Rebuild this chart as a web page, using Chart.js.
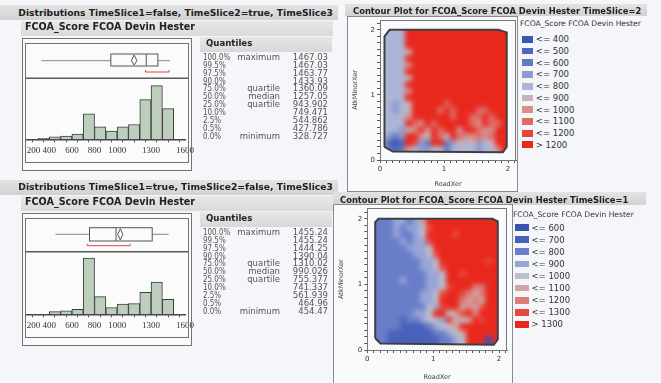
<!DOCTYPE html>
<html><head><meta charset="utf-8">
<script src="https://cdn.jsdelivr.net/npm/chart.js@4.4.1/dist/chart.umd.min.js"></script>
<style>
html,body{margin:0;padding:0}
body{width:661px;height:383px;position:relative;overflow:hidden;background:#f4f6f9;font-family:"DejaVu Sans",sans-serif;color:#333}
.a{position:absolute;box-sizing:border-box}
.t{position:absolute;white-space:nowrap;line-height:1}
canvas{position:absolute}
</style></head><body>
<script>
// ---------------- data ----------------
const histBinStart = [300,400,500,600,700,800,900,1000,1100,1200,1300,1400];
const histBinWidth = 100;
const histTS2 = [0.4,1,1.3,2,10,4.9,3.2,4.9,5.8,15.5,21,12];
const histTS1 = [0,1,1.3,1.9,21.6,6.8,2.6,3.9,4.1,8.5,12.4,5.8];
const histRange = [200,1600];
const histTickLabels = [200,400,600,800,1000,1300,1600];
const boxTS2 = [328.727,943.902,1257.05,1360.09,1467.03];
const boxTS1 = [454.47,755.377,990.026,1310.02,1455.24];
const meanTS2 = [1125,1150,1175];
const meanTS1 = [1005,1028,1050];
const shortestTS2 = [1250,1460];
const shortestTS1 = [735,1115];
const quantPct = ["100.0%","99.5%","97.5%","90.0%","75.0%","50.0%","25.0%","10.0%","2.5%","0.5%","0.0%"];
const quantName = ["maximum","","","","quartile","median","quartile","","","","minimum"];
const quantTS2 = ["1467.03","1467.03","1463.77","1433.93","1360.09","1257.05","943.902","749.471","544.862","427.786","328.727"];
const quantTS1 = ["1455.24","1455.24","1444.25","1390.04","1310.02","990.026","755.377","741.337","561.939","464.96","454.47"];
const levelsTS2 = ["<= 400","<= 500","<= 600","<= 700","<= 800","<= 900","<= 1000","<= 1100","<= 1200","> 1200"];
const colorsTS2 = ["#3b57b2","#4c67bb","#6378c3","#8c9bd0","#adb5d6","#c8b3b5","#d78f8d","#e06b66","#e8433a","#e9281d"];
const levelsTS1 = ["<= 600","<= 700","<= 800","<= 900","<= 1000","<= 1100","<= 1200","<= 1300","> 1300"];
const colorsTS1 = ["#3853b3","#4862bb","#6a7dc8","#97a5d8","#bcbfcc","#cfa5a6","#dd7b76","#e64a3f","#e9281d"];
const contourStep = 0.1;
const contourTop = 2.0;
// level index per 0.1 x 0.1 cell, rows from y=2.0 downwards, columns from x=0
const gridTS2 = [
"44449999999999999999","44449999999999999999","44449999999999999999","44445999999999999999",
"44449999999999999999","44446999999999999999","44449999999999999999","44445999999999999999",
"44449999999999999999","44446999999999999999","44449999999999999999","44345999997999999999",
"44345999979799977999","44446999999799779799","44449769799999769779","44435696979969976699",
"43239965975976676799","31019832992354534599","42126433542444434469","42126433542444434469"];
const gridTS1 = [
"22223323588888888888","22223233478888888888","22223223488887888888","22222323378888888888",
"22222233348888888888","22222223347888888888","22222222334888888878","22222222334788888888",
"22222222233488788888","22222322233488888888","22222222233478886688","22222222334788765688",
"22222222334888656588","22222222243788565788","22222223348845786888","22222122344385458788",
"22222111123445888888","22211111112234588888","22211111111223488808","22211111111223488808"];
const hullTS2 = [[0.07,0.2],[0.07,1.9],[0.15,2.0],[1.85,2.0],[1.98,1.96],[1.98,0.2],[1.92,0.12],[0.2,0.13]];
const hullTS1 = [[0.12,0.18],[0.12,1.95],[0.17,2.0],[1.9,2.0],[1.98,1.96],[1.98,0.16],[1.92,0.08],[0.2,0.1]];

// ---------------- helpers ----------------
const root = document.body;
function box(x,y,w,h,st){const d=document.createElement('div');d.className='a';Object.assign(d.style,{left:x+'px',top:y+'px',width:w+'px',height:h+'px'},st||{});root.appendChild(d);return d;}
function txt(s,x,base,size,o){o=o||{};const d=document.createElement('div');d.className='t';d.textContent=s;
  Object.assign(d.style,{left:x+'px',top:(base-0.846*size)+'px',fontSize:size+'px',fontFamily:o.family||'"DejaVu Sans", sans-serif',fontWeight:o.bold?'bold':'normal',color:o.color||'#3a3a3a'});
  let tr='';if(o.align==='right')tr+='translateX(-100%) ';if(o.sx){tr+='scaleX('+o.sx+')';d.style.transformOrigin=o.align==='right'?'right center':'left center';}
  if(tr)d.style.transform=tr;root.appendChild(d);return d;}
function cnv(x,y,w,h){const c=document.createElement('canvas');c.width=w;c.height=h;Object.assign(c.style,{left:x+'px',top:y+'px',width:w+'px',height:h+'px'});root.appendChild(c);return c;}
const bandBg='linear-gradient(#e3e3e3,#d2d2d2)';

function boxPlugin(stats,diamond,shortest,g){
  return {id:'boxPlot',afterDraw(chart){
    const ctx=chart.ctx,x=chart.scales.x,p=v=>x.getPixelForValue(v);
    const [mn,q1,md,q3,mx]=stats;
    ctx.save();
    ctx.strokeStyle='#5a5a5a';ctx.lineWidth=1.5;
    ctx.beginPath();ctx.moveTo(0,g.divider);ctx.lineTo(163,g.divider);ctx.stroke();
    ctx.lineWidth=1;ctx.strokeStyle='#888';
    ctx.beginPath();ctx.moveTo(p(mn),g.mid);ctx.lineTo(p(q1),g.mid);ctx.moveTo(p(q3),g.mid);ctx.lineTo(p(mx),g.mid);ctx.stroke();
    ctx.strokeStyle='#555';
    ctx.strokeRect(p(q1),g.top,p(q3)-p(q1),g.bottom-g.top);
    ctx.beginPath();ctx.moveTo(p(md),g.top);ctx.lineTo(p(md),g.bottom);ctx.stroke();
    ctx.beginPath();ctx.moveTo(p(diamond[0]),g.mid);ctx.lineTo(p(diamond[1]),g.top+1);ctx.lineTo(p(diamond[2]),g.mid);ctx.lineTo(p(diamond[1]),g.bottom-1);ctx.closePath();ctx.stroke();
    ctx.strokeStyle='#d24b4b';
    ctx.beginPath();ctx.moveTo(p(shortest[0]),g.bracket-2);ctx.lineTo(p(shortest[0]),g.bracket);ctx.lineTo(p(shortest[1]),g.bracket);ctx.lineTo(p(shortest[1]),g.bracket-2);ctx.stroke();
    ctx.restore();
  }};
}
const histTicks=[];for(let v=histRange[0];v<=histRange[1];v+=histBinWidth)histTicks.push(v);

function makeHist(canvas,counts,stats,diamond,shortest,g){
  return new Chart(canvas,{type:'bar',
    data:{datasets:[{data:histBinStart.map((s,i)=>({x:s+histBinWidth/2,y:counts[i]})),backgroundColor:'#bdcfbc',borderColor:'#3c3c3c',borderWidth:1,borderSkipped:'start',barPercentage:1,categoryPercentage:1}]},
    options:{responsive:false,animation:false,devicePixelRatio:1,events:[],
      layout:{padding:{left:0.7,right:10,top:g.padTop,bottom:0}},
      scales:{
        x:{type:'linear',min:histRange[0],max:histRange[1],offset:false,
          afterBuildTicks:s=>{s.ticks=histTicks.map(v=>({value:v}));},
          afterFit:s=>{s.height=23.7;s.paddingLeft=0;s.paddingRight=0;},
          ticks:{autoSkip:false,maxRotation:0,minRotation:0,padding:2.5,color:'#333',font:{family:'"Liberation Serif", serif',size:9},
            callback:v=>histTickLabels.includes(v)?(v===histRange[0]?'\u2007\u2007\u2007'+v:String(v)):''},
          grid:{drawOnChartArea:false,drawTicks:true,tickLength:3,color:'#444'},
          border:{color:'#444',width:1.5}},
        y:{display:false,min:0,max:23.2}},
      plugins:{legend:{display:false},tooltip:{enabled:false}}},
    plugins:[boxPlugin(stats,diamond,shortest,g)]});
}

function contourPlugin(grid,colors,hull){
  return {id:'contourCells',beforeDatasetsDraw(chart){
    const ctx=chart.ctx,x=chart.scales.x,y=chart.scales.y;
    const off=document.createElement('canvas');off.width=chart.width;off.height=chart.height;
    const o=off.getContext('2d');
    const rows=grid.length,cols=grid[0].length;
    for(let r=-2;r<=rows+1;r++){for(let c=-2;c<=cols+1;c++){
      const rr=Math.min(rows-1,Math.max(0,r)),cc=Math.min(cols-1,Math.max(0,c));
      const lv=+grid[rr][cc];
      const x0=x.getPixelForValue(c*contourStep),x1=x.getPixelForValue((c+1)*contourStep);
      const y0=y.getPixelForValue(contourTop-r*contourStep),y1=y.getPixelForValue(contourTop-(r+1)*contourStep);
      o.fillStyle=colors[lv];o.fillRect(Math.floor(x0),Math.floor(y0),Math.ceil(x1-x0)+1,Math.ceil(y1-y0)+1);
    }}
    ctx.save();
    ctx.beginPath();
    hull.forEach((pt,i)=>{const px=x.getPixelForValue(pt[0]),py=y.getPixelForValue(pt[1]);i?ctx.lineTo(px,py):ctx.moveTo(px,py);});
    ctx.closePath();ctx.clip();
    ctx.filter='blur(2.6px)';
    ctx.drawImage(off,0,0);
    ctx.restore();
  },afterDraw(chart){
    const ctx=chart.ctx,a=chart.chartArea;
    ctx.save();ctx.strokeStyle='#777';ctx.lineWidth=1;
    ctx.strokeRect(Math.round(a.left)+0.5,Math.round(a.top)+0.5,Math.round(a.right-a.left)-1,Math.round(a.bottom-a.top));
    ctx.restore();
  }};
}
const contourTicks=[];for(let i=0;i<=21;i++)contourTicks.push(+(i*contourStep).toFixed(1));

function makeContour(canvas,grid,colors,hull,g){
  const axisFont={family:'"DejaVu Sans", sans-serif',size:7};
  const lab=v=>Math.abs(v-Math.round(v))<1e-6?String(Math.round(v)):'';
  return new Chart(canvas,{type:'scatter',
    data:{datasets:[{data:hull.concat([hull[0]]).map(pt=>({x:pt[0],y:pt[1]})),showLine:true,borderColor:'#3f3f3f',borderWidth:2,pointRadius:0,tension:0,fill:false}]},
    options:{responsive:false,animation:false,devicePixelRatio:1,events:[],
      layout:{padding:{left:0,right:g.padRight,top:g.padTop,bottom:0}},
      scales:{
        x:{type:'linear',min:0,max:g.xMax,
          afterBuildTicks:s=>{s.ticks=contourTicks.filter(v=>v<=g.xMax).map(v=>({value:v}));},
          afterFit:s=>{s.height=g.xH;s.paddingLeft=0;s.paddingRight=0;},
          ticks:{autoSkip:false,maxRotation:0,minRotation:0,padding:2,color:'#333',font:axisFont,callback:lab},
          grid:{drawOnChartArea:false,tickLength:3,color:'#555'},border:{color:'#555',width:1},
          title:{display:true,text:'RoadXer',color:'#444',font:{family:'"DejaVu Sans", sans-serif',size:6.5},padding:{top:2,bottom:4}}},
        y:{type:'linear',min:0,max:g.yMax,
          afterBuildTicks:s=>{s.ticks=contourTicks.filter(v=>v<=g.yMax).map(v=>({value:v}));},
          afterFit:s=>{s.width=g.yW;s.paddingTop=0;s.paddingBottom=0;},
          ticks:{autoSkip:false,padding:2,color:'#333',font:axisFont,callback:lab},
          grid:{drawOnChartArea:false,tickLength:3,color:'#555'},border:{color:'#555',width:1},
          title:{display:true,text:'AtkMinorXer',color:'#444',font:{family:'"DejaVu Sans", sans-serif',size:6.5},padding:{top:4,bottom:2}}}},
      plugins:{legend:{display:false},tooltip:{enabled:false}}},
    plugins:[contourPlugin(grid,colors,hull)]});
}

// ---------------- distributions panels ----------------
function distSection(dy,title,counts,stats,diamond,shortest,quant,g){
  box(0,dy+4.5,338,15.5,{background:bandBg});
  box(21,dy+21,312,14.5,{background:'linear-gradient(#e8e8e8,#dadada)'});
  box(21.95,dy+37.55,169.8,133.2,{background:'#fbfbfc'});
  box(200,dy+36.7,132,15,{background:'linear-gradient(#e6e6e6,#d8d8d8)'});
  const c=cnv(26,dy+43,169,120);
  box(21.95,dy+37.55,169.8,133.2,{border:'1.5px solid #727272'});
  box(25.25,dy+42.55,164.2,120.9,{border:'1.5px solid #727272'});
  txt(title,18.3,dy+g.titleBase,9.2,{bold:true,color:'#222'});
  txt('FCOA_Score FCOA Devin Hester',25,dy+30.6,9.6,{bold:true,color:'#222'});
  txt('Quantiles',206,dy+46.4,8.6,{bold:true,color:'#222'});
  quantPct.forEach((p,i)=>{
    const b=dy+60.3+7.84*i;
    txt(p,202.7,b,8.5,{color:'#555',sx:0.84});
    if(quantName[i]) txt(quantName[i],280,b,8.5,{color:'#555',align:'right'});
    txt(quant[i],328,b,8.5,{color:'#555',align:'right'});
  });
  makeHist(c,counts,stats,diamond,shortest,g);
}
distSection(0,'Distributions TimeSlice1=false, TimeSlice2=true, TimeSlice3',histTS2,boxTS2,meanTS2,shortestTS2,quantTS2,
  {titleBase:15.8,padTop:37,divider:35.3,top:11,bottom:23,mid:17.7,bracket:29});
distSection(175,'Distributions TimeSlice1=true, TimeSlice2=false, TimeSlice3',histTS1,boxTS1,meanTS1,shortestTS1,quantTS1,
  {titleBase:15,padTop:36,divider:33.7,top:9.7,bottom:23,mid:16.3,bracket:27.7});

// ---------------- contour panels ----------------
function legend(x,titleBase,titleX,rowC0,rowStep,sw,levels,colors){
  txt('FCOA_Score FCOA Devin Hester',titleX,titleBase,7.6,{color:'#333'});
  levels.forEach((l,i)=>{
    const cy=rowC0+rowStep*i;
    box(x,cy-3.4,sw,6.8,{background:colors[i]});
    txt(l,x+sw+2.5,cy+3.1,8.5,{color:'#333'});
  });
}
// top: TimeSlice=2
box(345,4,302,12,{background:bandBg});
box(346.5,15.5,171,176.5,{background:'#f9fafb',border:'1px solid #8a8a8a'});
const cTop=cnv(347,16,170,176);
txt('Contour Plot for FCOA_Score FCOA Devin Hester TimeSlice=2',353,14,8.4,{bold:true,color:'#222'});
legend(521.7,26.3,520,39.3,11.73,11.6,levelsTS2,colorsTS2);
makeContour(cTop,gridTS2,colorsTS2,hullTS2,{xMax:2.125,yMax:2.15,yW:33,xH:32,padRight:1,padTop:4});
// bottom: TimeSlice=1
box(333,192,313,13,{background:bandBg});
box(332.5,203.5,180,185,{background:'#f9fafb',border:'1px solid #8a8a8a'});
const cBot=cnv(333,204,179,181);
txt('Contour Plot for FCOA_Score FCOA Devin Hester TimeSlice=1',340,203,8.4,{bold:true,color:'#222'});
legend(514.5,217.8,513,227.7,12.08,14.5,levelsTS1,colorsTS1);
makeContour(cBot,gridTS1,colorsTS1,hullTS1,{xMax:2.12,yMax:2.16,yW:34.3,xH:35,padRight:5,padTop:4.3});
</script>
</body></html>
